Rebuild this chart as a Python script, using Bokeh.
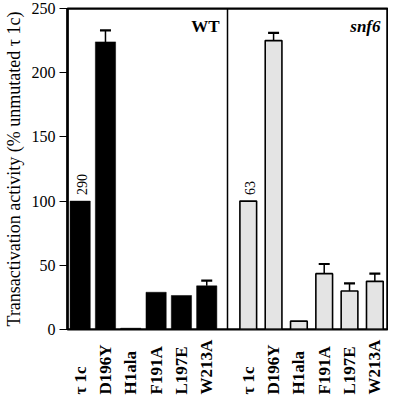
import math
from bokeh.plotting import figure
from bokeh.layouts import column
from bokeh.models import (FactorRange, ColumnDataSource, Whisker, TeeHead,
                          Span, LabelSet, Label)
from bokeh.core.properties import value
from bokeh.embed import file_html
from bokeh.resources import INLINE

# ---- data ----
strains = ["WT", "snf6"]
mutants = ["τ 1c", "D196Y", "H1ala", "F191A", "L197E", "W213A"]
wt_values = [100, 224, 1, 29, 26.5, 34]
wt_upper = [None, 233, None, None, None, 38]
snf6_values = [100, 225, 6.5, 43.5, 30, 37.5]
snf6_upper = [None, 231, None, 51, 36, 43.5]
tau_counts = ["290", "63"]
y_ticks = [0, 50, 100, 150, 200, 250]

SERIF = "Liberation Serif"

factors = [(s, m) for s in strains for m in mutants]
xr = FactorRange(*factors, group_padding=0.64, range_padding=0)

p = figure(width=388, height=337, x_range=xr, y_range=(0, 250),
           output_backend="svg", toolbar_location=None,
           min_border_left=64, min_border_top=8, min_border_right=1,
           min_border_bottom=8)

p.xgrid.visible = False
p.ygrid.visible = False
p.xaxis.visible = False
p.outline_line_color = "black"
p.outline_line_width = 2

yax = p.yaxis[0]
yax.ticker = y_ticks
yax.major_tick_in = 0
yax.major_tick_out = 8
yax.minor_tick_line_color = None
yax.axis_line_width = 2.5
yax.major_tick_line_width = 1.2
yax.major_label_text_font = SERIF
yax.major_label_text_font_size = "16px"
yax.major_label_text_color = "black"
yax.major_label_standoff = 4
yax.axis_label = "Transactivation activity (% unmutated τ 1c)"
yax.axis_label_text_font = SERIF
yax.axis_label_text_font_size = "18px"
yax.axis_label_text_font_style = "normal"
yax.axis_label_text_color = "black"
yax.axis_label_standoff = 5

# frame box
for loc in (0, 250):
    p.add_layout(Span(location=loc, dimension="width", line_color="black",
                      line_width=2))
p.add_layout(Span(location=12.64, dimension="height", line_color="black",
                  line_width=2))

# bars
wt_src = ColumnDataSource(dict(x=[("WT", m) for m in mutants], top=wt_values))
sn_src = ColumnDataSource(dict(x=[("snf6", m) for m in mutants], top=snf6_values))
p.vbar(x="x", top="top", width=0.8, source=wt_src, fill_color="black",
       line_color="black", line_width=0.5)
p.vbar(x="x", top="top", width=0.66, source=sn_src, fill_color="#e4e4e4",
       line_color="black", line_width=1.6)

# error bars (upper only)
ex, el, eu = [], [], []
for s, vals, ups in (("WT", wt_values, wt_upper), ("snf6", snf6_values, snf6_upper)):
    for m, v, u in zip(mutants, vals, ups):
        if u is not None:
            ex.append((s, m)); el.append(v); eu.append(u)
err_src = ColumnDataSource(dict(x=ex, lower=el, upper=eu))
p.add_layout(Whisker(source=err_src, base="x", lower="lower", upper="upper",
                     line_width=1.5, line_color="black", lower_head=None,
                     upper_head=TeeHead(size=11, line_width=2.2, line_color="black")))

# divider between strains
p.add_layout(Span(location=6.32, dimension="height", line_color="black",
                  line_width=1.5))

# counts above tau1c bars
cnt_src = ColumnDataSource(dict(x=[(s, mutants[0]) for s in strains],
                                y=[100, 100], t=tau_counts))
p.add_layout(LabelSet(source=cnt_src, x="x", y="y", text="t", angle=math.pi / 2,
                      x_offset=2, y_offset=6, text_align="left",
                      text_baseline="middle", text_font=SERIF,
                      text_font_size="14px", text_color="black"))

# strain labels
p.add_layout(Label(x=6.32, y=250, text=strains[0], x_offset=-8, y_offset=-18,
                   text_align="right", text_baseline="alphabetic",
                   text_font=SERIF, text_font_size="17px",
                   text_font_style="bold", text_color="black"))
p.add_layout(Label(x=12.64, y=250, text=strains[1], x_offset=-7, y_offset=-18,
                   text_align="right", text_baseline="alphabetic",
                   text_font=SERIF, text_font_size="17px",
                   text_font_style="bold italic", text_color="black"))

# category labels in a strip below, sharing the x range
p2 = figure(width=388, height=59, x_range=xr, y_range=(0, 59),
            output_backend="svg", toolbar_location=None,
            min_border_left=64, min_border_top=0, min_border_right=1,
            min_border_bottom=0)
p2.axis.visible = False
p2.grid.visible = False
p2.outline_line_color = None
lab_src = ColumnDataSource(dict(x=factors, y=[2] * len(factors),
                                t=[m for s in strains for m in mutants]))
p2.text(x="x", y="y", text="t", source=lab_src, angle=math.pi / 2,
        text_align="left", text_baseline="middle",
        text_font=value(SERIF), text_font_size="17px",
        text_font_style="bold", text_color="black")

layout = column(p, p2, spacing=0)
open("out.html", "w").write(file_html(layout, INLINE))
